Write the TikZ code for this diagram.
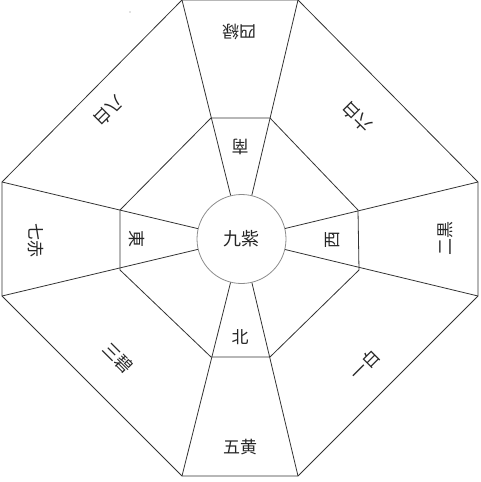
\documentclass[tikz,border=0pt]{standalone}
\usepackage{fontspec}
\newfontfamily\jpfont{Noto Sans CJK JP}
\usetikzlibrary{calc}
\begin{document}
\begin{tikzpicture}[x=1pt,y=-1pt,
  edge/.style={draw=black!80,line width=0.8pt},
  lbl/.style={font=\jpfont\fontsize{17}{17}\selectfont,text=black!85,inner sep=0pt},
  hub/.style={circle,draw=black!45,line width=0.8pt,minimum size=89pt,inner sep=0pt,font=\jpfont\fontsize{18}{18}\selectfont,text=black!85}]
\useasboundingbox (0,0) rectangle (480,482);
% outer vertices
\coordinate (o1) at (182,0);
\coordinate (o2) at (298,0);
\coordinate (o3) at (478,182);
\coordinate (o4) at (478,296);
\coordinate (o5) at (298,476);
\coordinate (o6) at (182,476);
\coordinate (o7) at (2,296);
\coordinate (o8) at (2,182);
% inner vertices
\coordinate (i1) at (211,118);
\coordinate (i2) at (270,118);
\coordinate (i3) at (358,210);
\coordinate (i4) at (359,270);
\coordinate (i5) at (270,357);
\coordinate (i6) at (211,357);
\coordinate (i7) at (120,270);
\coordinate (i8) at (120,210);
% centre
\node[hub] (ctr) at (241.5,239) {九紫};
% outer octagon
\draw[edge] (o1) -- (o2) -- (o3) -- (o4) -- (o5) -- (o6) -- (o7) -- (o8) -- cycle;
% inner octagon
\draw[edge] (i1) -- (i2) -- (i3) -- (i4) -- (i5) -- (i6) -- (i7) -- (i8) -- cycle;
% spokes
\foreach \k in {1,...,8} { \draw[edge] (o\k) -- (ctr); }
% stray dot
\fill[black!50] (130,12) circle (0.6);
% direction labels
\node[lbl,rotate=180] (south) at (240,147) {南};
\node[lbl] (north) at (240,337) {北};
\node[lbl,rotate=-90] (east) at (137,239) {東};
\node[lbl,rotate=90] (west) at (333,240) {西};
% outer labels
\node[lbl,rotate=180] (s4) at (239,32) {四緑};
\node[lbl,rotate=135] (s6) at (357,117) {六白};
\node[lbl,rotate=90] (s2) at (445,238) {二黒};
\node[lbl,rotate=45] (s1) at (365,365) {一白};
\node[lbl] (s5) at (240,447) {五黄};
\node[lbl,rotate=-45] (s3) at (118,358) {三碧};
\node[lbl,rotate=-90] (s7) at (36,240) {七赤};
\node[lbl,rotate=225] (s8) at (109,111) {八白};
\end{tikzpicture}
\end{document}
